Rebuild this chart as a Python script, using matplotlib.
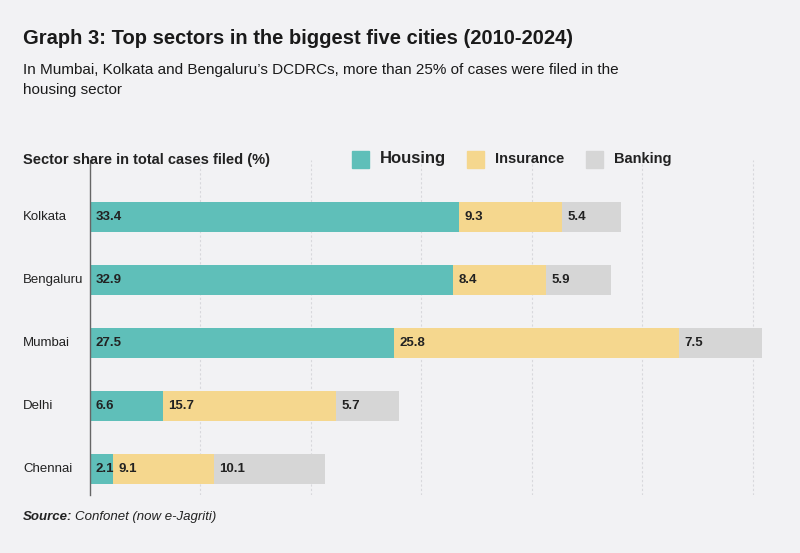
import matplotlib.pyplot as plt
from matplotlib.transforms import blended_transform_factory

cities = ['Kolkata', 'Bengaluru', 'Mumbai', 'Delhi', 'Chennai']
housing = [33.4, 32.9, 27.5, 6.6, 2.1]
insurance = [9.3, 8.4, 25.8, 15.7, 9.1]
banking = [5.4, 5.9, 7.5, 5.7, 10.1]
grid_ticks = [10, 20, 30, 40, 50, 60]

bg = '#f2f2f4'
colors = {'Housing': '#5fbfb9', 'Insurance': '#f5d78e', 'Banking': '#d6d6d6'}

plt.rcParams['font.family'] = ['Liberation Sans', 'DejaVu Sans']
fig = plt.figure(figsize=(8, 5.53), dpi=100, facecolor=bg)
ax = fig.add_axes([90 / 800, 1 - 495 / 553, 707 / 800, 335 / 553], facecolor=bg)

y = list(range(len(cities)))
left = [0] * len(cities)
for name, vals in [('Housing', housing), ('Insurance', insurance), ('Banking', banking)]:
    ax.barh(y, vals, left=left, height=0.48, color=colors[name], zorder=2)
    for i, v in enumerate(vals):
        ax.text(left[i] + 0.5, i, f'{v}', va='center', ha='left', fontsize=9.5,
                fontweight='bold', color='#222222', zorder=3)
    left = [l + v for l, v in zip(left, vals)]

ax.set_xlim(0, 64)
ax.set_ylim(4.41, -0.905)
for g in grid_ticks:
    ax.axvline(g, color='#d8d8dc', linestyle=(0, (2, 2)), linewidth=0.8, zorder=1)
ax.set_xticks([])
ax.set_yticks([])
for s in ['top', 'right', 'bottom']:
    ax.spines[s].set_visible(False)
ax.spines['left'].set_color('#666666')
ax.spines['left'].set_linewidth(1)

trans = blended_transform_factory(fig.transFigure, ax.transData)
for i, c in enumerate(cities):
    ax.text(23 / 800, i, c, transform=trans, ha='left', va='center',
            fontsize=9.5, color='#222222')

fig.text(23 / 800, 1 - 38 / 553, 'Graph 3: Top sectors in the biggest five cities (2010-2024)',
         fontsize=14.5, fontweight='bold', color='#1a1a1a', va='center')
fig.text(23 / 800, 1 - 70 / 553, 'In Mumbai, Kolkata and Bengaluru\u2019s DCDRCs, more than 25% of cases were filed in the',
         fontsize=11, color='#1a1a1a', va='center')
fig.text(23 / 800, 1 - 90 / 553, 'housing sector', fontsize=11, color='#1a1a1a', va='center')
fig.text(23 / 800, 1 - 160 / 553, 'Sector share in total cases filed (%)', fontsize=10.5,
         fontweight='bold', color='#222222', va='center')

legend_items = [('Housing', 352, 380, 12), ('Insurance', 467, 495, 10.5), ('Banking', 586, 614, 10.5)]
for name, sx, tx, fs in legend_items:
    fig.patches.append(plt.Rectangle((sx / 800, 1 - 168 / 553), 17 / 800, 17 / 553,
                                     transform=fig.transFigure, color=colors[name]))
    fig.text(tx / 800, 1 - 159 / 553, name, fontsize=fs, fontweight='bold',
             color='#222222', va='center')

fig.text(23 / 800, 1 - 517 / 553, 'Source:', fontsize=9.5, color='#222222', va='center',
         style='italic', fontweight='bold')
fig.text(75 / 800, 1 - 517 / 553, 'Confonet (now e-Jagriti)', fontsize=9.5, color='#222222',
         va='center', style='italic')

fig.savefig('out.png', dpi=100, facecolor=bg)
